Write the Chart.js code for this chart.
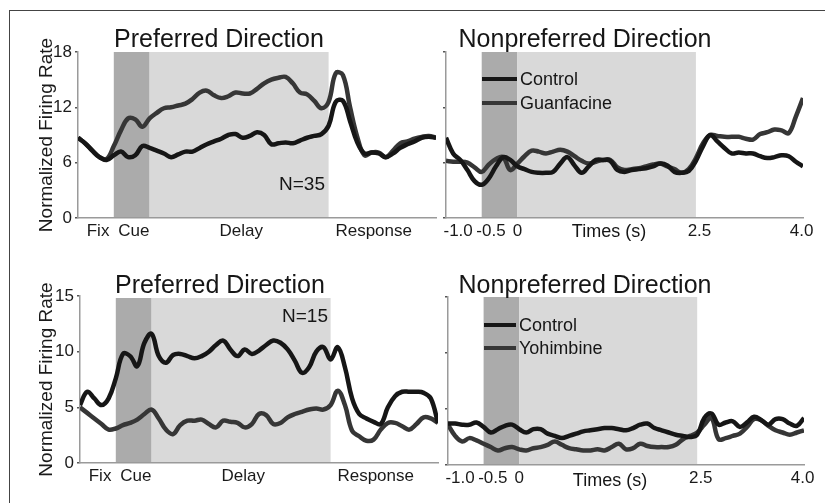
<!DOCTYPE html>
<html>
<head>
<meta charset="utf-8">
<script src="https://cdn.jsdelivr.net/npm/chart.js@4.4.0/dist/chart.umd.min.js"></script>
<style>
  html, body { margin: 0; padding: 0; background: #fff; }
  #wrap { position: relative; width: 825px; height: 503px; overflow: hidden; background: #fff; }
  #wrap canvas { position: absolute; left: 0; top: 0; }
  #frame { position: absolute; left: 9px; top: 10px; width: 830px; height: 500px;
           border-top: 1px solid #444; border-left: 1px solid #444; }
</style>
</head>
<body>
<div id="wrap">
  <div id="frame"></div>
  <canvas id="c1" width="825" height="503"></canvas>
  <canvas id="c2" width="825" height="503"></canvas>
  <canvas id="c3" width="825" height="503"></canvas>
  <canvas id="c4" width="825" height="503"></canvas>
</div>
<script>
// time axis (s), relative to cue offset
const times = [-1.0, -0.9, -0.8, -0.7, -0.6, -0.5, -0.4, -0.3, -0.2, -0.1,
  0.0, 0.1, 0.2, 0.3, 0.4, 0.5, 0.6, 0.7, 0.8, 0.9,
  1.0, 1.1, 1.2, 1.3, 1.4, 1.5, 1.6, 1.7, 1.8, 1.9,
  2.0, 2.1, 2.2, 2.3, 2.4, 2.5, 2.6, 2.7, 2.8, 2.9,
  3.0, 3.1, 3.2, 3.3, 3.4, 3.5, 3.6, 3.7, 3.8, 3.9, 4.0];

//Guanfacine experiment, preferred direction
const prefControlG = [8.7, 8.1, 7.3, 6.6, 6.3, 6.8, 7.2, 6.6, 6.8, 7.8,
  7.6, 7.3, 7.0, 6.6, 6.9, 7.2, 7.2, 7.6, 8.0, 8.3,
  8.6, 9.0, 9.1, 8.7, 8.9, 9.3, 9.0, 8.0, 8.1, 8.2,
  8.1, 8.4, 8.7, 8.9, 9.1, 10.0, 12.6, 12.7, 10.5, 8.2,
  7.0, 7.1, 7.0, 6.6, 7.0, 7.6, 8.0, 8.3, 8.7, 8.8, 8.7];
const prefGuanfacine = [8.7, 8.1, 7.3, 6.6, 6.4, 7.8, 9.5, 10.8, 10.7, 9.9,
  10.8, 11.4, 11.9, 12.0, 12.2, 12.4, 12.9, 13.6, 13.8, 13.3,
  13.0, 13.2, 13.6, 13.5, 13.5, 14.0, 14.6, 15.0, 15.2, 15.3,
  14.6, 13.6, 13.4, 12.7, 11.9, 12.6, 15.7, 15.5, 12.0, 8.8,
  6.8, 7.1, 7.1, 6.6, 7.3, 8.1, 8.3, 8.6, 8.8, 8.9, 8.7];

//Guanfacine experiment, nonpreferred direction
const nonprefControlG = [8.7, 7.0, 6.3, 5.2, 4.0, 3.6, 4.3, 5.6, 6.6, 6.3,
  5.6, 5.3, 5.0, 4.9, 4.9, 5.0, 5.9, 6.6, 5.7, 4.9,
  5.6, 6.3, 6.3, 6.2, 5.2, 5.0, 5.2, 5.3, 5.4, 5.6,
  5.9, 5.7, 5.0, 4.9, 5.1, 6.2, 7.8, 9.0, 8.3, 7.6,
  7.0, 7.1, 7.0, 7.0, 6.7, 6.5, 6.6, 6.8, 6.7, 6.1, 5.6];
const nonprefGuanfacine = [6.2, 6.1, 6.1, 6.0, 5.5, 5.0, 5.8, 6.4, 6.6, 5.2,
  5.9, 6.7, 7.3, 7.2, 7.0, 7.2, 7.4, 7.2, 6.7, 6.2,
  5.9, 6.1, 6.3, 6.3, 5.5, 5.2, 5.3, 5.4, 5.6, 5.8,
  5.9, 5.6, 5.3, 4.9, 5.3, 6.5, 8.1, 9.0, 8.9, 8.8,
  8.8, 8.8, 8.6, 8.5, 9.1, 9.3, 9.6, 9.5, 9.2, 11.0, 13.0];

//Yohimbine experiment, preferred direction
const prefControlY = [5.2, 6.4, 5.8, 5.2, 5.8, 7.6, 9.8, 9.6, 8.7, 10.8,
  11.6, 9.6, 9.0, 9.7, 9.8, 9.6, 9.4, 9.6, 10.0, 10.6,
  11.0, 10.2, 9.6, 10.2, 9.8, 10.1, 10.6, 11.0, 10.8, 10.2,
  9.2, 8.1, 8.6, 10.0, 10.4, 9.3, 10.4, 8.6, 5.8, 4.4,
  4.0, 3.7, 3.5, 5.0, 6.0, 6.4, 6.4, 6.4, 6.3, 5.8, 3.6];
const prefYohimbine = [5.0, 4.5, 4.0, 3.5, 3.0, 3.1, 3.4, 3.6, 3.9, 4.4,
  4.8, 4.0, 3.0, 2.6, 3.4, 3.8, 3.8, 3.9, 3.5, 3.2,
  3.8, 3.7, 3.6, 3.2, 3.5, 4.4, 4.3, 3.5, 3.6, 4.1,
  4.4, 4.6, 4.8, 4.9, 4.8, 5.2, 6.5, 5.2, 2.9, 2.4,
  2.0, 2.1, 3.0, 3.6, 3.6, 3.3, 3.0, 3.5, 4.1, 4.0, 3.6];

//Yohimbine experiment, nonpreferred direction
const nonprefControlY = [3.7, 3.7, 3.6, 3.6, 3.8, 3.4, 2.9, 3.2, 3.5, 3.6,
  3.2, 2.9, 3.2, 3.2, 2.8, 2.6, 2.4, 2.6, 2.8, 3.0,
  3.1, 3.2, 3.3, 3.3, 3.2, 3.1, 3.3, 3.6, 3.7, 3.3,
  3.1, 2.9, 2.7, 2.6, 2.5, 2.7, 4.2, 4.6, 3.6, 3.8,
  3.9, 3.4, 3.8, 4.3, 4.0, 3.6, 4.1, 4.1, 3.7, 3.5, 4.2];
const nonprefYohimbine = [3.6, 2.6, 2.1, 2.4, 2.2, 1.9, 1.6, 1.3, 1.5, 1.6,
  1.4, 1.3, 1.5, 1.6, 1.8, 2.1, 1.8, 1.5, 1.4, 1.3,
  1.3, 1.4, 1.3, 1.6, 1.9, 1.4, 1.5, 1.9, 1.7, 1.6,
  1.6, 1.6, 1.8, 2.3, 2.6, 2.9, 3.6, 4.2, 2.3, 2.4,
  2.6, 2.8, 3.4, 4.1, 4.0, 3.5, 3.1, 2.9, 2.7, 2.9, 3.1];

// task epochs (s)
const cueBand = [-0.5, 0];
const delayBand = [0, 2.5];

// tick labels
const phaseTickPos = [-0.72, -0.22, 1.28, 3.13];
const phaseTickLabels = ["Fix", "Cue", "Delay", "Response"];
const timeTickPos = [-0.83, -0.37, 0, 2.55, 3.98];
const timeTickLabels = ["-1.0", "-0.5", "0", "2.5", "4.0"];
const topYTicks = [0, 6, 12, 18];
const bottomYTicks = [0, 5, 10, 15];

const FONT = "'Liberation Sans', Arial, Helvetica, sans-serif";
const CONTROL_COLOR = "#161616";
const DRUG_COLOR = "#363636";
Chart.defaults.font.family = FONT;
Chart.defaults.color = "#1a1a1a";

//shading + panel texts
const decorPlugin = {
  id: "decor",
  beforeDraw(chart, args, o) {
    const { ctx, chartArea: a } = chart;
    const x = chart.scales.x;
    const x0 = x.getPixelForValue(cueBand[0]);
    const x1 = x.getPixelForValue(cueBand[1]);
    const x2 = x.getPixelForValue(delayBand[1]);
    const top = a.top + o.shadeTop;
    ctx.save();
    ctx.fillStyle = "#ababab";
    ctx.fillRect(x0, top, x1 - x0, a.bottom - top);
    ctx.fillStyle = "#d9d9d9";
    ctx.fillRect(x1, top, x2 - x1, a.bottom - top);
    ctx.restore();
  },
  afterDraw(chart, args, o) {
    const ctx = chart.ctx;
    ctx.save();
    ctx.fillStyle = "#161616";
    ctx.textBaseline = "alphabetic";
    ctx.textAlign = "center";
    ctx.font = "25px " + FONT;
    ctx.fillText(o.title, o.titleX, o.titleY);
    if (o.note) {
      ctx.textAlign = "right";
      ctx.font = "19px " + FONT;
      ctx.fillText(o.note, o.noteX, o.noteY);
    }
    if (o.caption) {
      ctx.textAlign = "center";
      ctx.textBaseline = "middle";
      ctx.font = "18px " + FONT;
      ctx.fillText(o.caption, o.captionX, o.captionY);
    }
    if (o.legendNames) {
      ctx.textAlign = "left";
      ctx.textBaseline = "middle";
      ctx.font = "18px " + FONT;
      o.legendNames.forEach((name, i) => {
        const y = o.legendY[i];
        ctx.strokeStyle = i === 0 ? CONTROL_COLOR : DRUG_COLOR;
        ctx.lineWidth = 4;
        ctx.beginPath();
        ctx.moveTo(o.legendX0, y);
        ctx.lineTo(o.legendX1, y);
        ctx.stroke();
        ctx.fillText(name, o.legendX1 + 3, y + 1);
      });
    }
    ctx.restore();
  },
};

const makePanel = (id, p) => {
  const yW = p.yLabels ? p.area.left - 31 : 20;
  const xH = 30;
  return new Chart(document.getElementById(id), {
    type: "line",
    data: {
      datasets: p.series.map((s) => ({
        label: s.label,
        data: times.map((t, i) => ({ x: t, y: s.data[i] })),
        borderColor: s.color,
        borderWidth: 4.5,
        pointRadius: 0,
        tension: 0.4,
        fill: false,
      })),
    },
    options: {
      responsive: false,
      animation: false,
      devicePixelRatio: 1,
      events: [],
      layout: {
        padding: {
          left: p.area.left - yW,
          top: p.area.top,
          right: 825 - p.area.right,
          bottom: 503 - p.area.bottom - xH,
        },
      },
      scales: {
        x: {
          type: "linear",
          min: -1,
          max: 4,
          afterBuildTicks: (s) => { s.ticks = p.xPos.map((v) => ({ value: v })); },
          afterFit: (s) => { s.height = xH; },
          grid: { display: false, drawTicks: false },
          border: { display: true, color: "#9a9a9a", width: 1.5 },
          ticks: {
            autoSkip: false,
            maxRotation: 0,
            padding: 3,
            font: { size: 17 },
            callback: (v, i) => p.xLabels[i],
          },
        },
        y: {
          min: 0,
          max: p.yMax,
          afterBuildTicks: (s) => { s.ticks = p.yTicks.map((v) => ({ value: v })); },
          afterFit: (s) => { s.width = yW; },
          grid: { drawOnChartArea: false, drawTicks: true, tickLength: 3, color: "#555", lineWidth: 1.5 },
          border: { display: true, color: "#9a9a9a", width: 1.5 },
          ticks: { display: p.yLabels, padding: 3, font: { size: 17 } },
          title: {
            display: p.yLabels,
            text: "Normalized Firing Rate",
            font: { size: 19 },
            padding: { top: 4, bottom: 0 },
          },
        },
      },
      plugins: {
        legend: { display: false },
        tooltip: { enabled: false },
        decor: p.decor,
      },
    },
    plugins: [decorPlugin],
  });
};

makePanel("c1", {
  area: { left: 78, top: 52, right: 436, bottom: 218 },
  yMax: 18, yTicks: topYTicks, yLabels: true,
  xPos: phaseTickPos, xLabels: phaseTickLabels,
  series: [
    { label: "Control", data: prefControlG, color: CONTROL_COLOR },
    { label: "Guanfacine", data: prefGuanfacine, color: DRUG_COLOR },
  ],
  decor: { shadeTop: 0, title: "Preferred Direction", titleX: 219, titleY: 47, note: "N=35", noteX: 325, noteY: 190 },
});

makePanel("c2", {
  area: { left: 446, top: 52, right: 803, bottom: 218 },
  yMax: 18, yTicks: topYTicks, yLabels: false,
  xPos: timeTickPos, xLabels: timeTickLabels,
  series: [
    { label: "Control", data: nonprefControlG, color: CONTROL_COLOR },
    { label: "Guanfacine", data: nonprefGuanfacine, color: DRUG_COLOR },
  ],
  decor: {
    shadeTop: 0, title: "Nonpreferred Direction", titleX: 585, titleY: 47,
    caption: "Times (s)", captionX: 609, captionY: 232,
    legendNames: ["Control", "Guanfacine"], legendX0: 482, legendX1: 517, legendY: [79, 103],
  },
});

makePanel("c3", {
  area: { left: 80, top: 296, right: 438, bottom: 463 },
  yMax: 15, yTicks: bottomYTicks, yLabels: true,
  xPos: phaseTickPos, xLabels: phaseTickLabels,
  series: [
    { label: "Control", data: prefControlY, color: CONTROL_COLOR },
    { label: "Yohimbine", data: prefYohimbine, color: DRUG_COLOR },
  ],
  decor: { shadeTop: 2, title: "Preferred Direction", titleX: 220, titleY: 293, note: "N=15", noteX: 328, noteY: 322 },
});

makePanel("c4", {
  area: { left: 448, top: 297, right: 804, bottom: 465 },
  yMax: 15, yTicks: bottomYTicks, yLabels: false,
  xPos: timeTickPos, xLabels: timeTickLabels,
  series: [
    { label: "Control", data: nonprefControlY, color: CONTROL_COLOR },
    { label: "Yohimbine", data: nonprefYohimbine, color: DRUG_COLOR },
  ],
  decor: {
    shadeTop: 0, title: "Nonpreferred Direction", titleX: 585, titleY: 293,
    caption: "Times (s)", captionX: 610, captionY: 481,
    legendNames: ["Control", "Yohimbine"], legendX0: 484, legendX1: 516, legendY: [325, 348],
  },
});
</script>
</body>
</html>
